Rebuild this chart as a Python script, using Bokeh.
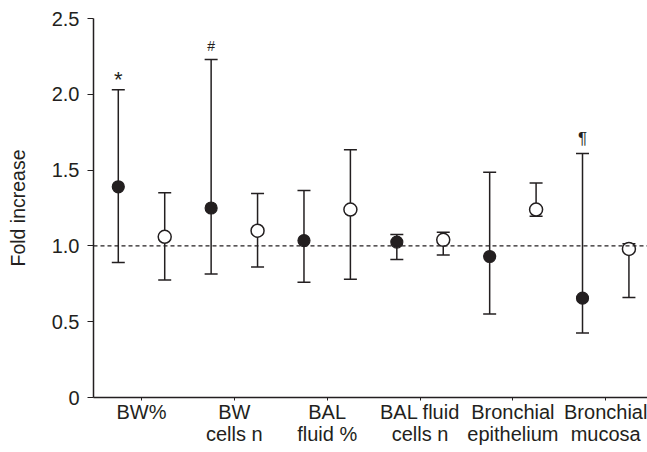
from bokeh.plotting import figure
from bokeh.models import Span, FixedTicker, ColumnDataSource
from bokeh.core.properties import value
from bokeh.embed import file_html
from bokeh.resources import INLINE

categories = ["BW%", "BW\ncells n", "BAL\nfluid %", "BAL fluid\ncells n", "Bronchial\nepithelium", "Bronchial\nmucosa"]

filled_mean = [1.39, 1.25, 1.035, 1.025, 0.93, 0.655]
filled_upper = [2.03, 2.23, 1.365, 1.075, 1.485, 1.61]
filled_lower = [0.89, 0.815, 0.76, 0.91, 0.55, 0.425]

open_mean = [1.06, 1.10, 1.24, 1.04, 1.24, 0.98]
open_upper = [1.35, 1.345, 1.635, 1.09, 1.415, 1.015]
open_lower = [0.775, 0.86, 0.78, 0.94, 1.195, 0.66]

marks = ["*", "#", "", "", "", "¶"]
mark_y = [2.10, 2.32, None, None, None, 1.71]

y_ticks = [0, 0.5, 1.0, 1.5, 2.0, 2.5]
y_tick_labels = ["0", "0.5", "1.0", "1.5", "2.0", "2.5"]

INK = "#231f20"
FONT = "Liberation Sans"
OFF = 0.25

pos = list(range(1, len(categories) + 1))
fx = [p_ - OFF for p_ in pos]
ox = [p_ + OFF for p_ in pos]

p = figure(width=647, height=452, output_backend="svg", toolbar_location=None,
           x_range=(0.483, 6.45), y_range=(0, 2.5),
           min_border_left=93, min_border_right=0, min_border_top=18, min_border_bottom=55)
p.outline_line_color = None
p.xgrid.visible = False
p.ygrid.visible = False
p.background_fill_color = "white"

# reference line
p.add_layout(Span(location=1.0, dimension="width", line_color=INK, line_width=1.2, line_dash="4 3"))

fsrc = ColumnDataSource(dict(x=fx, m=filled_mean, u=filled_upper, l=filled_lower))
osrc = ColumnDataSource(dict(x=ox, m=open_mean, u=open_upper, l=open_lower))

for src in (fsrc, osrc):
    p.segment(x0="x", y0="l", x1="x", y1="u", source=src, line_color=INK, line_width=1.5)
    p.scatter(x="x", y="u", source=src, marker="dash", size=13, line_color=INK, line_width=1.5)
    p.scatter(x="x", y="l", source=src, marker="dash", size=13, line_color=INK, line_width=1.5)

p.scatter(x="x", y="m", source=fsrc, marker="circle", size=12, fill_color=INK, line_color=INK, line_width=1.2)
p.scatter(x="x", y="m", source=osrc, marker="circle", size=13, fill_color="white", line_color=INK, line_width=1.5)

mx = [fx[i] for i in range(len(marks)) if marks[i]]
my = [mark_y[i] for i in range(len(marks)) if marks[i]]
mt = [m for m in marks if m]
msz = ["22px" if m == "*" else ("14px" if m == "#" else "17px") for m in mt]
p.text(x=mx, y=my, text=mt, text_font=value(FONT), text_font_size=msz,
       text_align="center", text_baseline="middle", text_color=INK)

# axes
xa = p.xaxis[0]
xa.ticker = FixedTicker(ticks=pos)
xa.major_label_overrides = {i + 1: c for i, c in enumerate(categories)}
xa.minor_tick_line_color = None
xa.major_tick_out = 3
xa.major_tick_in = 0
xa.axis_line_width = 1.5
xa.axis_line_color = INK
xa.major_tick_line_color = INK
xa.major_label_text_font = FONT
xa.major_label_text_font_size = "20px"
xa.major_label_text_color = INK
xa.major_label_standoff = 0
xa.major_label_text_line_height = 1.0

ya = p.yaxis[0]
ya.ticker = FixedTicker(ticks=y_ticks)
ya.major_label_overrides = {t: l for t, l in zip(y_ticks, y_tick_labels)}
ya.minor_tick_line_color = None
ya.major_tick_out = 6
ya.major_tick_in = 0
ya.axis_line_width = 1.5
ya.axis_line_color = INK
ya.major_tick_line_color = INK
ya.major_label_text_font = FONT
ya.major_label_text_font_size = "20px"
ya.major_label_text_color = INK
ya.major_label_standoff = 8
ya.axis_label = "Fold increase"
ya.axis_label_text_font = FONT
ya.axis_label_text_font_size = "19.5px"
ya.axis_label_text_font_style = "normal"
ya.axis_label_text_color = INK
ya.axis_label_standoff = 20

open("out.html", "w").write(file_html(p, INLINE))
